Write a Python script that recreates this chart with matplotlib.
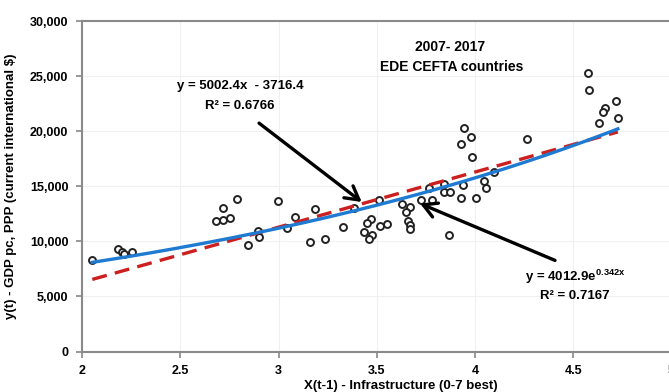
import numpy as np
import matplotlib
matplotlib.use("Agg")
import matplotlib.pyplot as plt

# infrastructure score (t-1) and GDP pc PPP (t)
infra = [2.051, 2.180, 2.201, 2.212, 2.255, 2.679, 2.715, 2.715, 2.754, 2.788,
         2.844, 2.896, 2.901, 2.994, 3.083, 3.043, 3.185, 3.159, 3.235, 3.325,
         3.382, 3.511, 3.470, 3.449, 3.434, 3.475, 3.460, 3.515, 3.551, 3.628,
         3.667, 3.647, 3.656, 3.668, 3.669, 3.727, 3.782, 3.764, 3.841, 3.843,
         3.872, 3.868, 3.927, 3.941, 4.004, 4.045, 4.054, 4.095, 3.926, 3.945,
         3.977, 3.982, 4.263, 4.576, 4.580, 4.716, 4.660, 4.649, 4.629, 4.727]
gdp = [8270, 9340, 9030, 8880, 9030, 11850, 11910, 13030, 12090, 13850,
       9700, 10940, 10390, 13660, 12250, 11230, 12910, 9970, 10180, 11290,
       13030, 13790, 12050, 11640, 10840, 10590, 10200, 11360, 11610, 13380,
       13160, 12660, 11850, 11450, 11140, 13790, 13790, 14820, 15250, 14500,
       14520, 10550, 13950, 15110, 13930, 15440, 14880, 16300, 18800, 20250,
       19480, 17640, 19270, 25300, 23730, 22750, 22120, 21770, 20770, 21180]

# trendline coefficients as printed on the chart
lin_slope, lin_icpt = 5002.4, -3716.4
exp_a, exp_b = 4012.9, 0.342

xticks = [2, 2.5, 3, 3.5, 4, 4.5, 5]
yticks = [0, 5000, 10000, 15000, 20000, 25000, 30000]

plt.rcParams['font.family'] = ['Liberation Sans', 'DejaVu Sans']
plt.rcParams['font.weight'] = 'bold'
plt.rcParams['mathtext.fontset'] = 'custom'
plt.rcParams['mathtext.bf'] = 'Liberation Sans:bold'

fig = plt.figure(figsize=(6.69, 3.92), dpi=100)
ax = fig.add_axes([0.1230, 0.1033, 0.8807, 0.8431])

xs = np.linspace(min(infra), max(infra), 200)
ax.plot(infra, gdp, 'o', ms=5, mfc='white', mec='#222222', mew=1.4, zorder=3)
ax.plot(xs, lin_slope * xs + lin_icpt, color='#cc1f1f', lw=2.4,
        dashes=(4.5, 2.5), zorder=4)
ax.plot(xs, exp_a * np.exp(exp_b * xs), color='#1f7ad1', lw=2.4, zorder=5)

ax.set_xlim(2, 5)
ax.set_ylim(0, 30000)
ax.set_xticks(xticks)
ax.set_xticklabels([f'{t:g}' for t in xticks])
ax.set_yticks(yticks)
ax.set_yticklabels([f'{t:,}' for t in yticks])
ax.tick_params(axis='both', labelsize=9, length=4, width=1.2, color='#888888')
ax.tick_params(axis='y', pad=6)
ax.tick_params(axis='x', pad=6)
ax.grid(True, color='#f0f0f0', lw=0.8)
ax.set_axisbelow(True)
for s in ['left', 'bottom', 'top']:
    ax.spines[s].set_color('#8a8a8a')
    ax.spines[s].set_linewidth(1.5)
ax.spines['right'].set_visible(False)

ax.set_xlabel('X(t-1) - Infrastructure (0-7 best)', fontsize=9.5, fontweight='bold')
ax.xaxis.set_label_coords(0.541, -0.085)
ax.set_ylabel('y(t) - GDP pc, PPP (current international $)', fontsize=9.5,
              fontweight='bold')
ax.yaxis.set_label_coords(-0.11, 0.5)

# titles and equations
ax.text(3.872, 27640, '2007- 2017', ha='center', va='center', fontsize=10)
ax.text(3.882, 25820, 'EDE CEFTA countries', ha='center', va='center', fontsize=10)
ax.text(2.803, 24090, 'y = 5002.4x  - 3716.4', ha='center', va='center', fontsize=9.5)
ax.text(2.803, 22270, 'R² = 0.6766', ha='center', va='center', fontsize=9.5)
ax.text(4.509, 6760, r'y = 4012.9e$^{\mathbf{0.342x}}$', ha='center', va='center',
        fontsize=9.5)
ax.text(4.509, 5000, 'R² = 0.7167', ha='center', va='center', fontsize=9.5)

arrow = dict(arrowstyle='->,head_length=0.8,head_width=0.45', color='black',
             lw=2.4, shrinkA=0, shrinkB=0, mutation_scale=12)
ax.annotate('', xy=(3.423, 13570), xytext=(2.900, 20730), arrowprops=arrow, zorder=6)
ax.annotate('', xy=(3.720, 13430), xytext=(4.407, 8270), arrowprops=arrow, zorder=6)

fig.savefig('out.png', dpi=100)
